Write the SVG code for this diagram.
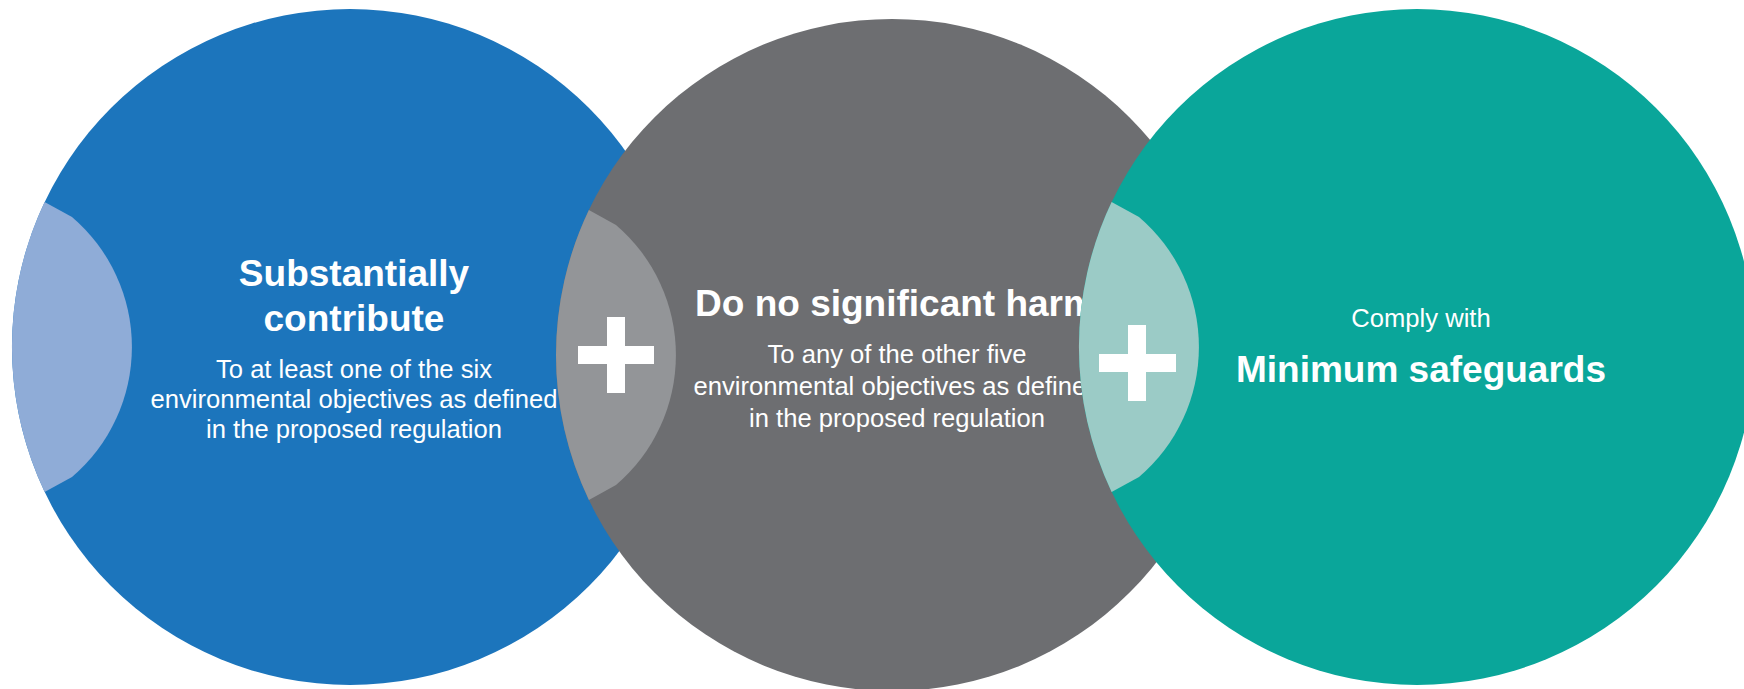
<svg xmlns="http://www.w3.org/2000/svg" width="1744" height="689" viewBox="0 0 1744 689">
  <style>
    .title { font-family: "Liberation Sans", Arial, sans-serif; font-weight: bold; font-size: 37px; fill: #ffffff; text-anchor: middle; }
    .body { font-family: "Liberation Sans", Arial, sans-serif; font-size: 25.6px; fill: #ffffff; text-anchor: middle; }
    .plus { fill: #ffffff; }
  </style>
  <rect width="1744" height="689" fill="#ffffff"/>

  <!-- Substantially contribute -->
  <g id="node-contribute">
    <circle cx="350" cy="347" r="338" fill="#1C75BC"/>
    <path d="M44.6,202 L72,217 A171,171 0 0 1 72,477 L44.6,492 A338,338 0 0 1 44.6,202 Z" fill="#8FACD7"/>
    <text class="title" x="354" y="286">Substantially</text>
    <text class="title" x="354" y="331">contribute</text>
    <text class="body" x="354" y="378">To at least one of the six</text>
    <text class="body" x="354" y="408">environmental objectives as defined</text>
    <text class="body" x="354" y="438">in the proposed regulation</text>
  </g>

  <!-- Do no significant harm -->
  <g id="node-dnsh">
    <circle cx="892" cy="355" r="336" fill="#6D6E71"/>
    <path d="M588.9,210 L616,225 A171,171 0 0 1 616,485 L588.9,500 A336,336 0 0 1 588.9,210 Z" fill="#939598"/>
    <g id="plus-1" class="plus">
      <rect x="578" y="346" width="76" height="18"/>
      <rect x="607" y="317" width="18" height="76"/>
    </g>
    <text class="title" x="895.5" y="316">Do no significant harm</text>
    <text class="body" x="897" y="363">To any of the other five</text>
    <text class="body" x="897" y="395">environmental objectives as defined</text>
    <text class="body" x="897" y="427">in the proposed regulation</text>
  </g>

  <!-- Minimum safeguards -->
  <g id="node-safeguards">
    <circle cx="1417" cy="347" r="338" fill="#0AA69A"/>
    <path d="M1111.6,202 L1139,217 A171,171 0 0 1 1139,477 L1111.6,492 A338,338 0 0 1 1111.6,202 Z" fill="#9BCBC6"/>
    <g id="plus-2" class="plus">
      <rect x="1099" y="354" width="77" height="18"/>
      <rect x="1128" y="325" width="18" height="76"/>
    </g>
    <text class="body" x="1421" y="327">Comply with</text>
    <text class="title" x="1421" y="382">Minimum safeguards</text>
  </g>

  <!-- no connectors in this figure -->
  <g id="connectors"/>
</svg>
